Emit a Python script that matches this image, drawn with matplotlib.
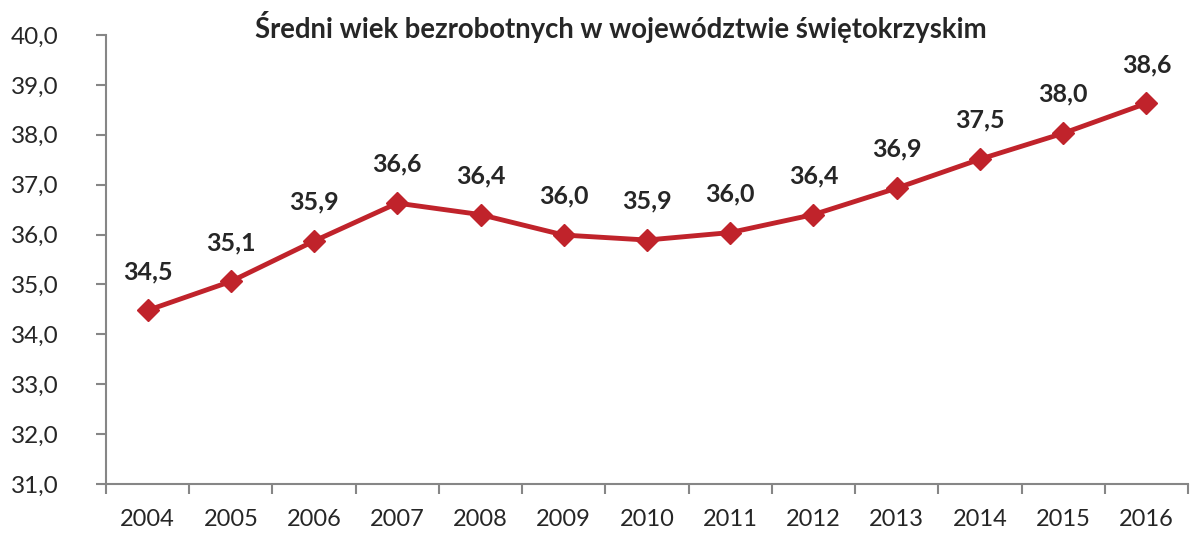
import matplotlib
matplotlib.use("Agg")
import matplotlib.pyplot as plt
import numpy as np

years = ["2004", "2005", "2006", "2007", "2008", "2009", "2010", "2011", "2012", "2013", "2014", "2015", "2016"]
values = [34.48, 35.06, 35.87, 36.63, 36.40, 35.99, 35.89, 36.04, 36.40, 36.93, 37.51, 38.03, 38.63]
labels = ["34,5", "35,1", "35,9", "36,6", "36,4", "36,0", "35,9", "36,0", "36,4", "36,9", "37,5", "38,0", "38,6"]
yticks = [31, 32, 33, 34, 35, 36, 37, 38, 39, 40]
title = "Średni wiek bezrobotnych w województwie świętokrzyskim"

plt.rcParams['font.family'] = ['Lato', 'DejaVu Sans']

fig = plt.figure(figsize=(11.94, 5.35), dpi=100)
ax = fig.add_axes([106/1194, 1-484/535, (1188-106)/1194, (484-35)/535])

x = np.arange(len(years))
red = "#C0232B"
ax.plot(x, values, color=red, lw=3.5, marker='D', markersize=11, zorder=3)
for xi, v, lab in zip(x, values, labels):
    ax.annotate(lab, (xi, v), xytext=(0, 28), textcoords='offset points',
                ha='center', va='center', fontsize=18, fontweight='bold', color='#262626')

ax.set_xlim(-0.5, len(years)-0.5)
ax.set_ylim(31, 40)
ax.set_yticks(yticks)
ax.set_yticklabels([f"{t:.1f}".replace('.', ',') for t in yticks], fontsize=17.5, color='#262626')
ax.set_xticks(x)
ax.set_xticklabels(years, fontsize=17, color='#262626')
ax.set_xticks(np.arange(-0.5, len(years)), minor=True)
ax.tick_params(axis='x', which='major', length=0, pad=18)
ax.tick_params(axis='x', which='minor', length=7, color='#868686', width=1.5, direction='out')
ax.tick_params(axis='y', length=7, color='#868686', width=1.5, direction='out', pad=27)
for s in ['top', 'right']:
    ax.spines[s].set_visible(False)
for s in ['left', 'bottom']:
    ax.spines[s].set_color('#868686')
    ax.spines[s].set_linewidth(1.5)

fig.text(621/1194, 1-27/535, title, ha='center', va='center', fontsize=19.8, fontweight='bold', color='#262626')

fig.savefig("out.png", dpi=100)
